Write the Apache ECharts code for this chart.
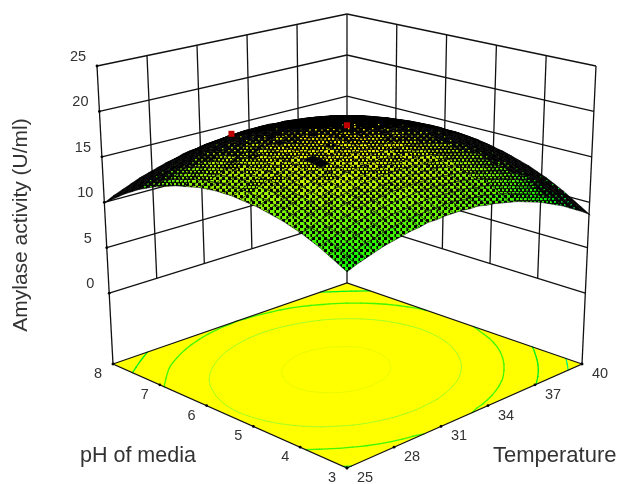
<!DOCTYPE html>
<html><head><meta charset="utf-8">
<style>html,body{margin:0;padding:0;background:#fff}#c{width:619px;height:484px}</style>
<script src="https://cdn.jsdelivr.net/npm/echarts@6/dist/echarts.min.js"></script>
</head><body><div id="c"></div>
<script>
const tempTicks=[25,28,31,34,37,40];
const phTicks=[3,4,5,6,7,8];
const zTicks=[0,5,10,15,20,25];
const contourLevels=[10,12,14,16,18];
const contourColors=['#00f080','#00f020','#40f800','#a8ff20','#e4f800'];
const contourWidths=[1.2,1.3,1.3,1,0.8];
const designPoints=[[5.5,32.5,18.7],[6.75,29.2,17.6]];
const zFloor=-8.2;
// rows: pH 3 -> 8, columns: temperature 25 -> 40
const activity=[
[11.8,12.2,12.5,12.8,13.1,13.3,13.5,13.7,13.8,14,14,14.1,14.1,14.1,14,14,13.8,13.7,13.5,13.3,13.1,12.8,12.5,12.2,11.8,11.4,11,10.5,10,9.5,8.9],
[12.3,12.7,13,13.4,13.6,13.9,14.1,14.3,14.4,14.5,14.6,14.6,14.7,14.7,14.6,14.5,14.4,14.3,14.1,13.9,13.7,13.4,13.1,12.8,12.4,12,11.6,11.1,10.6,10.1,9.5],
[12.8,13.2,13.5,13.9,14.1,14.4,14.6,14.8,14.9,15,15.1,15.2,15.2,15.2,15.1,15.1,15,14.8,14.7,14.5,14.2,14,13.7,13.3,13,12.6,12.1,11.7,11.2,10.7,10.1],
[13.3,13.7,14,14.3,14.6,14.8,15.1,15.2,15.4,15.5,15.6,15.7,15.7,15.7,15.6,15.6,15.5,15.3,15.2,15,14.7,14.5,14.2,13.9,13.5,13.1,12.7,12.2,11.7,11.2,10.7],
[13.7,14.1,14.4,14.7,15,15.3,15.5,15.7,15.8,16,16,16.1,16.1,16.1,16.1,16,15.9,15.8,15.6,15.4,15.2,15,14.7,14.3,14,13.6,13.2,12.7,12.2,11.7,11.2],
[14.1,14.4,14.8,15.1,15.4,15.7,15.9,16.1,16.2,16.4,16.4,16.5,16.6,16.5,16.5,16.5,16.4,16.2,16.1,15.9,15.7,15.4,15.1,14.8,14.4,14,13.6,13.2,12.7,12.2,11.7],
[14.4,14.8,15.1,15.5,15.7,16,16.2,16.4,16.6,16.7,16.8,16.9,16.9,16.9,16.9,16.8,16.7,16.6,16.5,16.3,16.1,15.8,15.5,15.2,14.8,14.5,14.1,13.6,13.1,12.6,12.1],
[14.7,15.1,15.4,15.8,16,16.3,16.5,16.7,16.9,17,17.1,17.2,17.3,17.3,17.2,17.2,17.1,17,16.8,16.6,16.4,16.2,15.9,15.6,15.2,14.8,14.4,14,13.5,13,12.5],
[14.9,15.3,15.7,16,16.3,16.6,16.8,17,17.2,17.3,17.4,17.5,17.5,17.5,17.5,17.5,17.4,17.3,17.1,16.9,16.7,16.5,16.2,15.9,15.5,15.2,14.8,14.3,13.9,13.4,12.8],
[15.1,15.5,15.9,16.2,16.5,16.8,17,17.2,17.4,17.6,17.7,17.7,17.8,17.8,17.8,17.7,17.7,17.5,17.4,17.2,17,16.8,16.5,16.2,15.8,15.5,15.1,14.6,14.2,13.7,13.1],
[15.3,15.7,16.1,16.4,16.7,17,17.2,17.4,17.6,17.8,17.9,18,18,18,18,18,17.9,17.8,17.6,17.4,17.2,17,16.7,16.4,16.1,15.7,15.3,14.9,14.4,13.9,13.4],
[15.4,15.8,16.2,16.6,16.9,17.1,17.4,17.6,17.8,17.9,18,18.1,18.2,18.2,18.2,18.1,18.1,17.9,17.8,17.6,17.4,17.2,16.9,16.6,16.3,15.9,15.5,15.1,14.7,14.2,13.6],
[15.5,15.9,16.3,16.7,17,17.2,17.5,17.7,17.9,18,18.2,18.2,18.3,18.3,18.3,18.3,18.2,18.1,18,17.8,17.6,17.4,17.1,16.8,16.5,16.1,15.7,15.3,14.8,14.3,13.8],
[15.6,16,16.4,16.7,17,17.3,17.6,17.8,18,18.1,18.2,18.3,18.4,18.4,18.4,18.4,18.3,18.2,18.1,17.9,17.7,17.5,17.2,16.9,16.6,16.2,15.9,15.4,15,14.5,14],
[15.6,16,16.4,16.7,17.1,17.3,17.6,17.8,18,18.2,18.3,18.4,18.4,18.5,18.5,18.4,18.4,18.3,18.1,18,17.8,17.6,17.3,17,16.7,16.3,15.9,15.5,15.1,14.6,14.1],
[15.6,16,16.4,16.7,17,17.3,17.6,17.8,18,18.2,18.3,18.4,18.5,18.5,18.5,18.5,18.4,18.3,18.2,18,17.8,17.6,17.3,17.1,16.7,16.4,16,15.6,15.1,14.7,14.2],
[15.5,15.9,16.3,16.7,17,17.3,17.5,17.8,18,18.1,18.2,18.4,18.4,18.5,18.5,18.4,18.4,18.3,18.2,18,17.8,17.6,17.3,17.1,16.7,16.4,16,15.6,15.2,14.7,14.2],
[15.4,15.8,16.2,16.6,16.9,17.2,17.4,17.7,17.9,18,18.2,18.3,18.4,18.4,18.4,18.4,18.3,18.2,18.1,18,17.8,17.6,17.3,17,16.7,16.4,16,15.6,15.2,14.7,14.2],
[15.2,15.7,16,16.4,16.7,17,17.3,17.5,17.7,17.9,18.1,18.2,18.2,18.3,18.3,18.3,18.2,18.1,18,17.9,17.7,17.5,17.2,17,16.6,16.3,15.9,15.5,15.1,14.6,14.1],
[15,15.5,15.9,16.2,16.6,16.9,17.1,17.4,17.6,17.8,17.9,18,18.1,18.1,18.2,18.1,18.1,18,17.9,17.7,17.6,17.4,17.1,16.8,16.5,16.2,15.8,15.4,15,14.5,14],
[14.8,15.2,15.6,16,16.4,16.7,16.9,17.2,17.4,17.6,17.7,17.8,17.9,18,18,18,17.9,17.8,17.7,17.6,17.4,17.2,17,16.7,16.4,16.1,15.7,15.3,14.9,14.4,13.9],
[14.5,15,15.4,15.8,16.1,16.4,16.7,16.9,17.1,17.3,17.5,17.6,17.7,17.7,17.7,17.7,17.7,17.6,17.5,17.4,17.2,17,16.8,16.5,16.2,15.9,15.5,15.1,14.7,14.2,13.7],
[14.2,14.7,15.1,15.5,15.8,16.1,16.4,16.6,16.9,17,17.2,17.3,17.4,17.5,17.5,17.5,17.4,17.4,17.3,17.1,17,16.8,16.5,16.3,16,15.6,15.3,14.9,14.5,14,13.5],
[13.9,14.3,14.7,15.1,15.5,15.8,16.1,16.3,16.5,16.7,16.9,17,17.1,17.2,17.2,17.2,17.1,17.1,17,16.8,16.7,16.5,16.3,16,15.7,15.4,15,14.6,14.2,13.8,13.3],
[13.5,13.9,14.3,14.7,15.1,15.4,15.7,15.9,16.2,16.4,16.5,16.6,16.7,16.8,16.8,16.8,16.8,16.7,16.6,16.5,16.4,16.2,15.9,15.7,15.4,15.1,14.7,14.3,13.9,13.5,13],
[13.1,13.5,13.9,14.3,14.7,15,15.3,15.5,15.8,16,16.1,16.3,16.4,16.4,16.5,16.5,16.4,16.4,16.3,16.1,16,15.8,15.6,15.3,15,14.7,14.4,14,13.6,13.1,12.7],
[12.6,13,13.5,13.9,14.2,14.5,14.8,15.1,15.3,15.5,15.7,15.8,15.9,16,16,16,16,15.9,15.9,15.7,15.6,15.4,15.2,14.9,14.6,14.3,14,13.6,13.2,12.8,12.3],
[12.1,12.5,13,13.4,13.7,14,14.3,14.6,14.8,15,15.2,15.3,15.5,15.5,15.6,15.6,15.6,15.5,15.4,15.3,15.1,15,14.7,14.5,14.2,13.9,13.6,13.2,12.8,12.3,11.9],
[11.5,12,12.4,12.8,13.2,13.5,13.8,14.1,14.3,14.5,14.7,14.8,14.9,15,15.1,15.1,15.1,15,14.9,14.8,14.7,14.5,14.3,14,13.7,13.4,13.1,12.7,12.3,11.9,11.4],
[10.9,11.4,11.8,12.2,12.6,12.9,13.2,13.5,13.7,14,14.1,14.3,14.4,14.5,14.5,14.5,14.5,14.5,14.4,14.3,14.1,14,13.8,13.5,13.2,12.9,12.6,12.2,11.8,11.4,10.9],
[10.3,10.8,11.2,11.6,12,12.3,12.6,12.9,13.1,13.4,13.5,13.7,13.8,13.9,13.9,14,13.9,13.9,13.8,13.7,13.6,13.4,13.2,13,12.7,12.4,12.1,11.7,11.3,10.9,10.4]
];
const N=activity.length-1;
// surface and contours: perspective camera fitted to the picture; a = temperature 0..1, b = pH 0..1
function project(a,b,z){
  const H=z-zFloor;
  const w=1+0.13954*a+0.14441*b-0.00226*H;
  return [(316.2*a-217.7*b+347-0.783*H)/w,(-53.2*a-51.4*b+468-10.42*H)/w];
}
// box, grid and ticks: evenly spaced along each edge, as in the picture
const boxFloor=[[347,468],[582,364],[347,283],[113,364]];
const boxTop=[[347,141],[596,66],[347,14],[97,66]];
const boxZMin=-7.8,boxZMax=25;
function boxPoint(a,b,z){
  const t=(z-boxZMin)/(boxZMax-boxZMin);
  const at=(c,k)=>(1-a)*(1-b)*c[0][k]+a*(1-b)*c[1][k]+a*b*c[2][k]+(1-a)*b*c[3][k];
  return [0,1].map(k=>at(boxFloor,k)*(1-t)+at(boxTop,k)*t);
}
const aOf=t=>(t-25)/15, bOf=p=>(p-3)/5;
function mix(c1,c2,t){return c1.map((v,k)=>Math.round(v+(c2[k]-v)*t));}
function colorOf(z){
  const c=z<11.8?mix([0,255,170],[0,245,0],Math.max(0,(z-8.9)/2.9)):mix([0,245,0],[250,240,0],Math.min(1,(z-11.8)/6.7));
  return 'rgb('+c.join(',')+')';
}
// dotted mesh look: coloured dots on black, sparser where the surface is foreshortened
const densities=[[88,6,6,4.4,3],[62,6,6,4,2.7],[48,4,6,2.8,2.2],[40,4,6,2.2,1.8],[33,6,6,1.8,1.5],[25,12,8,1.4,1.3]];
const tileCache={};
function dotFill(z,area,drop){
  let di=densities.findIndex(d=>area>=d[0]);
  if(di<0)return '#000';
  di+=drop;
  if(di>=densities.length)return '#000';
  const dn=densities[di];
  const zq=Math.round(z*2)/2,key=zq+'|'+di;
  if(!tileCache[key]){
    const cv=document.createElement('canvas');cv.width=dn[1];cv.height=dn[2];
    const g=cv.getContext('2d');g.fillStyle='#000';g.fillRect(0,0,dn[1],dn[2]);g.fillStyle=colorOf(zq);
    g.fillRect(0,0,dn[3],dn[4]);g.fillRect(dn[1]/2,dn[2]/2,dn[3],dn[4]);
    tileCache[key]={image:cv,repeat:'repeat'};
  }
  return tileCache[key];
}
// thin rings of sparser dots around the dark spot of the mesh
function ringDrop(x,y){
  const d=Math.hypot(x-317,(y-162)*1.75);
  if(d<10)return 9;
  if(d>85)return 0;
  return d%17>11?1:0;
}
const wallLines=[];
zTicks.forEach(z=>{wallLines.push([0,1,z,1,1,z]);wallLines.push([1,1,z,1,0,z]);});
tempTicks.forEach(t=>{const a=aOf(t);wallLines.push([a,1,a===0||a===1?boxZMin:0,a,1,25]);});
phTicks.forEach(p=>{const b=bOf(p);if(b<1)wallLines.push([1,b,b===0?boxZMin:0,1,b,25]);});
const tickDots=[];
tempTicks.forEach(t=>tickDots.push([aOf(t),0,boxZMin]));
phTicks.forEach(p=>tickDots.push([0,bOf(p),boxZMin]));
zTicks.forEach(z=>tickDots.push([0,1,z]));
// contours follow the table, lightly smoothed so the one-decimal rounding does not show
function smoothAt(i,j){
  let s=0,n=0;
  for(let di=-1;di<=1;di++)for(let dj=-1;dj<=1;dj++){
    const r=activity[i+di];if(r&&r[j+dj]!==undefined){s+=r[j+dj];n++;}
  }
  return (i===0||j===0||i===N||j===N)?activity[i][j]:s/n;
}
const contourSegs=[];
contourLevels.forEach((lv,li)=>{
  for(let i=0;i<N;i++)for(let j=0;j<N;j++){
    const cs=[[j,i],[j+1,i],[j+1,i+1],[j,i+1]],pts=[];
    for(let k=0;k<4;k++){
      const p=cs[k],q=cs[(k+1)%4],u=smoothAt(p[1],p[0]),v=smoothAt(q[1],q[0]);
      if((u<lv)!==(v<lv)){const t=(lv-u)/(v-u);pts.push([(p[0]+(q[0]-p[0])*t)/N,(p[1]+(q[1]-p[1])*t)/N]);}
    }
    if(pts.length>=2)contourSegs.push([pts[0][0],pts[0][1],pts[1][0],pts[1][1],li]);
    if(pts.length===4)contourSegs.push([pts[2][0],pts[2][1],pts[3][0],pts[3][1],li]);
  }
});
const cells=[];
for(let i=N-1;i>=0;i--)for(let j=N-1;j>=0;j--)cells.push([i,j]);
const textItems=[];
zTicks.forEach(z=>textItems.push([0,1,z,String(z),-19,-9]));
phTicks.forEach(p=>textItems.push([0,bOf(p),boxZMin,String(p),-15,10]));
tempTicks.forEach(t=>textItems.push([aOf(t),0,boxZMin,String(t),18,10]));

const chart=echarts.init(document.getElementById('c'),null,{renderer:'canvas'});
const base={type:'custom',coordinateSystem:'cartesian2d',silent:true,animation:false,progressive:0,clip:false};
const floorShape=api=>[[0,0],[1,0],[1,1],[0,1]].map(c=>api.coord(boxPoint(c[0],c[1],boxZMin)));
chart.setOption({
  animation:false,backgroundColor:'#fff',
  grid:{left:0,right:0,top:0,bottom:0},
  xAxis:{type:'value',min:0,max:619,show:false},
  yAxis:{type:'value',min:0,max:484,inverse:true,show:false},
  graphic:[
    {type:'text',left:80,top:445,style:{text:'pH of media',font:'21.5px "Liberation Sans"',fill:'#333'}},
    {type:'text',left:493,top:445,style:{text:'Temperature',font:'22px "Liberation Sans"',fill:'#333'}},
    {type:'text',x:21,y:225,rotation:Math.PI/2,style:{text:'Amylase activity (U/ml)',font:'21px "Liberation Sans"',fill:'#333',align:'center',verticalAlign:'middle'}}
  ],
  series:[
    Object.assign({},base,{data:wallLines,z:1,renderItem:(p,api)=>{
      const d=wallLines[p.dataIndex],A=api.coord(boxPoint(d[0],d[1],d[2])),B=api.coord(boxPoint(d[3],d[4],d[5]));
      return {type:'line',shape:{x1:A[0],y1:A[1],x2:B[0],y2:B[1]},style:{stroke:'#111',lineWidth:1.3}};
    }}),
    Object.assign({},base,{data:[[0]],z:2,renderItem:(p,api)=>({type:'polygon',shape:{points:floorShape(api)},style:{fill:'#ffff00'}})}),
    Object.assign({},base,{data:contourSegs,z:3,renderItem:(p,api)=>{
      const d=contourSegs[p.dataIndex],A=api.coord(project(d[0],d[1],zFloor)),B=api.coord(project(d[2],d[3],zFloor));
      return {type:'line',shape:{x1:A[0],y1:A[1],x2:B[0],y2:B[1]},style:{stroke:contourColors[d[4]],lineWidth:contourWidths[d[4]],lineCap:'round'}};
    }}),
    Object.assign({},base,{data:[[0]],z:4,renderItem:(p,api)=>({type:'polygon',shape:{points:floorShape(api)},style:{fill:'none',stroke:'#111',lineWidth:1.2}})}),
    Object.assign({},base,{data:tickDots,z:4,renderItem:(p,api)=>{
      const d=tickDots[p.dataIndex],A=api.coord(boxPoint(d[0],d[1],d[2]));
      return {type:'circle',shape:{cx:A[0],cy:A[1],r:1.4},style:{fill:'#000'}};
    }}),
    Object.assign({},base,{data:cells,z:5,renderItem:(p,api)=>{
      const i=cells[p.dataIndex][0],j=cells[p.dataIndex][1];
      const c=[[j,i],[j+1,i],[j+1,i+1],[j,i+1]];
      const zs=c.map(q=>activity[q[1]][q[0]]);
      const pts=c.map((q,k)=>api.coord(project(q[0]/N,q[1]/N,zs[k])));
      let area=0,cx=0,cy=0;
      for(let k=0;k<4;k++){const u=pts[k],v=pts[(k+1)%4];area+=u[0]*v[1]-v[0]*u[1];cx+=u[0]/4;cy+=u[1]/4;}
      area=-area/2;
      return {type:'polygon',shape:{points:pts},
        style:{fill:dotFill((zs[0]+zs[1]+zs[2]+zs[3])/4,area,ringDrop(cx,cy)),stroke:'#000',lineWidth:0.5}};
    }}),
    Object.assign({},base,{data:designPoints,z:6,renderItem:(p,api)=>{
      const d=designPoints[p.dataIndex],A=api.coord(project(aOf(d[1]),bOf(d[0]),d[2]));
      return {type:'rect',shape:{x:A[0]-3,y:A[1]-3,width:6,height:6},style:{fill:'#c00000'}};
    }}),
    Object.assign({},base,{data:textItems,z:7,renderItem:(p,api)=>{
      const d=textItems[p.dataIndex],A=api.coord(boxPoint(d[0],d[1],d[2]));
      return {type:'text',x:A[0]+d[4],y:A[1]+d[5],style:{text:d[3],font:'14.5px "Liberation Sans"',fill:'#333',align:'center',verticalAlign:'middle'}};
    }})
  ]
});
</script></body></html>
